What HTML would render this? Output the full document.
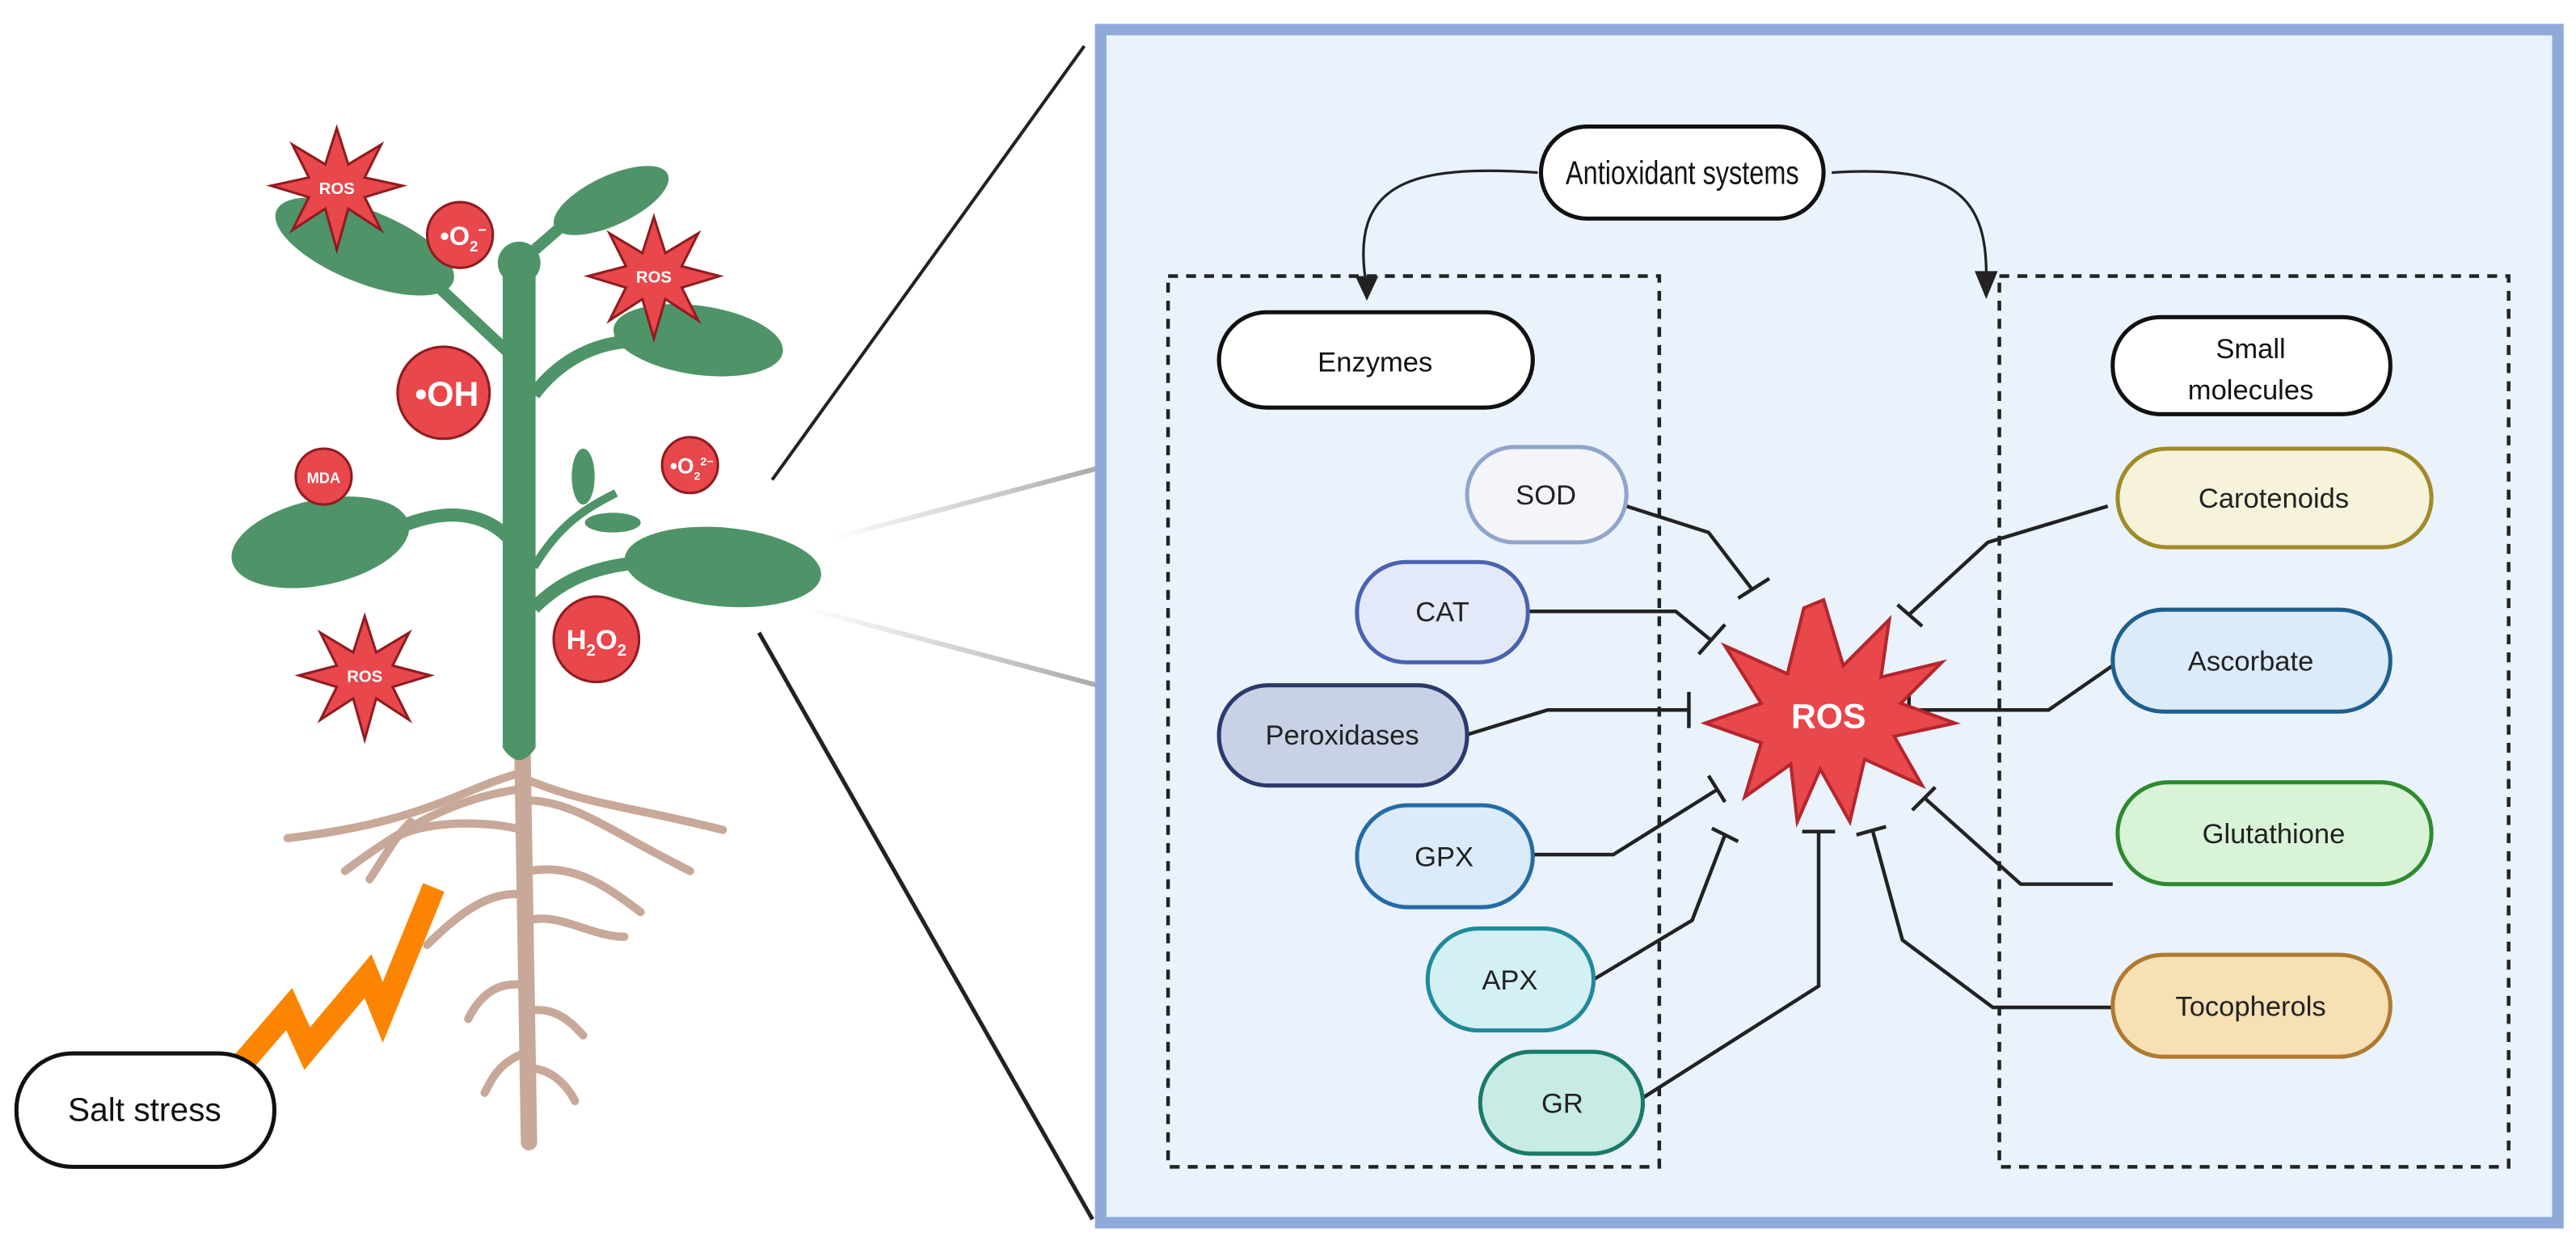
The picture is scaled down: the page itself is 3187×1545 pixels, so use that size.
<!DOCTYPE html>
<html><head><meta charset="utf-8"><style>
html,body{margin:0;padding:0;background:#fff;}
svg{display:block;}
text{font-family:"Liberation Sans",sans-serif;}
</style></head><body>
<svg width="3187" height="1545" viewBox="0 0 1568 760" preserveAspectRatio="none" xmlns="http://www.w3.org/2000/svg">
<defs>
<linearGradient id="g1" x1="0" y1="0" x2="1" y2="0"><stop offset="0" stop-color="#fff"/><stop offset="1" stop-color="#aaa"/></linearGradient>
</defs>
<line x1="470" y1="292" x2="660" y2="28" stroke="#222" stroke-width="2"/>
<line x1="505" y1="328" x2="668" y2="285" stroke="url(#g1)" stroke-width="3"/>
<line x1="490" y1="370" x2="668" y2="417" stroke="url(#g1)" stroke-width="3"/>
<line x1="462" y1="385" x2="665" y2="742" stroke="#222" stroke-width="2.5"/>
<rect x="670" y="18" width="887" height="726" fill="#eaf2fc" stroke="#8eaad8" stroke-width="7"/>
<rect x="711" y="168" width="299" height="542" fill="none" stroke="#222" stroke-width="2.2" stroke-dasharray="6,5"/>
<rect x="1217" y="168" width="310" height="542" fill="none" stroke="#222" stroke-width="2.2" stroke-dasharray="6,5"/>
<path d="M936 105 C860 100 820 110 832 175" fill="none" stroke="#222" stroke-width="1.6"/>
<polygon points="825,168 839,168 832,183" fill="#222"/>
<path d="M1115 105 C1190 100 1210 120 1209 170" fill="none" stroke="#222" stroke-width="1.6"/>
<polygon points="1202,165 1216,165 1209,182" fill="#222"/>
<rect x="938" y="77" width="172" height="56" rx="28" fill="#fff" stroke="#111" stroke-width="2.5"/>
<text x="1024" y="112" font-size="20" text-anchor="middle" fill="#111" textLength="142" lengthAdjust="spacingAndGlyphs">Antioxidant systems</text>
<rect x="742" y="190" width="191" height="58" rx="29" fill="#fff" stroke="#111" stroke-width="2.5"/>
<text x="837" y="226" font-size="17" text-anchor="middle" fill="#111">Enzymes</text>
<rect x="1286" y="193" width="169" height="59" rx="29" fill="#fff" stroke="#111" stroke-width="2.5"/>
<text x="1370" y="218" font-size="17" text-anchor="middle" fill="#111">Small</text>
<text x="1370" y="243" font-size="17" text-anchor="middle" fill="#111">molecules</text>
<g stroke="#222" stroke-width="2.2" fill="none">
<polyline points="990,308 1040,324 1066,358"/><line x1="1058" y1="364" x2="1077" y2="352"/>
<polyline points="930,372 1020,372 1042,390"/><line x1="1034" y1="398" x2="1050" y2="380"/>
<polyline points="893,447 942,432 1028,432"/><line x1="1028" y1="421" x2="1028" y2="443"/>
<polyline points="933,520 982,520 1046,480"/><line x1="1040" y1="472" x2="1050" y2="488"/>
<polyline points="970,596 1030,560 1050,508"/><line x1="1042" y1="504" x2="1058" y2="512"/>
<polyline points="1000,668 1107,600 1107,506"/><line x1="1097" y1="506" x2="1117" y2="506"/>
<polyline points="1286,613 1213,613 1158,572 1140,506"/><line x1="1130" y1="508" x2="1148" y2="503"/>
<polyline points="1286,538 1230,538 1172,486"/><line x1="1164" y1="493" x2="1178" y2="479"/>
<polyline points="1286,405 1247,432 1162,432"/><line x1="1162" y1="421" x2="1162" y2="443"/>
<polyline points="1283,308 1210,330 1162,374"/><line x1="1155" y1="368" x2="1170" y2="381"/>
</g>
<polygon points="1110,365 1122,405 1150,377 1145,412 1182,403 1157,428 1190,440 1153,448 1170,478 1135,462 1126,500 1108,468 1094,500 1090,465 1062,485 1072,452 1038,440 1072,428 1050,393 1088,410 1098,370" fill="#e8474b" stroke="#b3262c" stroke-width="2"/>
<text x="1113" y="443" font-size="21" font-weight="bold" text-anchor="middle" fill="#fff">ROS</text>
<g font-size="17" text-anchor="middle" fill="#222">
<rect x="893" y="272" width="97" height="58" rx="29" fill="#f3f5fa" stroke="#8fa5cc" stroke-width="2.5"/><text x="941" y="307">SOD</text>
<rect x="826" y="342" width="104" height="61" rx="30" fill="#e3e9f8" stroke="#4a62b0" stroke-width="2.5"/><text x="878" y="378">CAT</text>
<rect x="742" y="417" width="151" height="61" rx="30" fill="#c9d1e6" stroke="#2b3a6d" stroke-width="2.5"/><text x="817" y="453">Peroxidases</text>
<rect x="826" y="490" width="107" height="62" rx="31" fill="#dcebf9" stroke="#256ba6" stroke-width="2.5"/><text x="879" y="527">GPX</text>
<rect x="869" y="565" width="101" height="62" rx="31" fill="#d3f0f5" stroke="#1e8a9c" stroke-width="2.5"/><text x="919" y="602">APX</text>
<rect x="901" y="640" width="99" height="62" rx="31" fill="#c8ebe5" stroke="#1a7a6a" stroke-width="2.5"/><text x="951" y="677">GR</text>
<rect x="1289" y="273" width="191" height="60" rx="30" fill="#f6f3da" stroke="#a08a2a" stroke-width="2.5"/><text x="1384" y="309">Carotenoids</text>
<rect x="1286" y="371" width="169" height="62" rx="31" fill="#dcebfa" stroke="#1f5f8f" stroke-width="2.5"/><text x="1370" y="408">Ascorbate</text>
<rect x="1289" y="476" width="191" height="62" rx="31" fill="#d9f3d6" stroke="#2e8a2e" stroke-width="2.5"/><text x="1384" y="513">Glutathione</text>
<rect x="1286" y="581" width="169" height="62" rx="31" fill="#f6e0b4" stroke="#b07a30" stroke-width="2.5"/><text x="1370" y="618">Tocopherols</text>
</g>
<g stroke="#c8a898" stroke-width="5" fill="none" stroke-linecap="round">
<path d="M318 455 L322 695" stroke-width="10"/>
<path d="M318 470 C280 480 260 500 175 510"/>
<path d="M318 480 C280 485 250 500 210 530"/>
<path d="M250 500 C240 510 235 520 225 535"/>
<path d="M318 505 C300 500 260 498 240 510"/>
<path d="M322 475 C360 490 380 490 440 505"/>
<path d="M322 487 C350 488 370 505 420 530"/>
<path d="M322 530 C350 525 370 540 390 555"/>
<path d="M322 545 C300 540 280 555 260 575"/>
<path d="M322 560 C340 555 360 570 380 570"/>
<path d="M322 600 C300 595 290 610 285 620"/>
<path d="M322 615 C340 612 350 625 355 630"/>
<path d="M322 640 C305 645 300 655 295 665"/>
<path d="M322 650 C335 650 345 660 350 670"/>
</g>
<polyline points="138,658 176,614 187,638 224,594 233,616 264,540" fill="none" stroke="#fb8500" stroke-width="14" stroke-linejoin="miter" stroke-miterlimit="10"/>
<rect x="10" y="641" width="157" height="69" rx="34" fill="#fff" stroke="#111" stroke-width="2.5"/>
<text x="88" y="682" font-size="20" text-anchor="middle" fill="#111">Salt stress</text>
<g fill="#4e9468">
<path d="M306 160 L326 160 L326 455 Q316 470 306 455 Z"/>
<circle cx="316" cy="160" r="13"/>
<ellipse cx="222" cy="150" rx="58" ry="22" transform="rotate(22 222 150)"/>
<path d="M262 170 L310 215" stroke="#4e9468" stroke-width="7"/>
<ellipse cx="372" cy="122" rx="38" ry="15" transform="rotate(-25 372 122)"/>
<path d="M322 155 L345 135" stroke="#4e9468" stroke-width="7"/>
<ellipse cx="425" cy="207" rx="52" ry="21" transform="rotate(8 425 207)"/>
<path d="M325 240 C340 220 360 210 380 208" stroke="#4e9468" stroke-width="8" fill="none"/>
<ellipse cx="195" cy="330" rx="55" ry="26" transform="rotate(-12 195 330)"/>
<path d="M245 320 C270 310 295 310 312 330" stroke="#4e9468" stroke-width="8" fill="none"/>
<ellipse cx="440" cy="345" rx="60" ry="24" transform="rotate(5 440 345)"/>
<path d="M325 370 C345 350 365 345 390 342" stroke="#4e9468" stroke-width="8" fill="none"/>
<path d="M325 345 C340 320 355 310 375 300" stroke="#4e9468" stroke-width="5" fill="none"/>
<ellipse cx="355" cy="290" rx="7" ry="17"/>
<ellipse cx="373" cy="318" rx="17" ry="6"/>
</g>
<g fill="#e8474b" stroke="#8e1c20" stroke-width="1.5">
<polygon points="205,78 212,100 232,88 222,108 245,113 222,120 232,140 212,127 205,152 198,127 178,140 188,120 165,113 188,108 178,88 198,100"/>
<polygon points="398,132 405,154 425,142 415,162 438,168 415,175 425,195 405,182 398,206 391,182 371,195 381,175 358,168 381,162 371,142 391,154"/>
<polygon points="222,375 229,397 249,385 239,405 262,411 239,418 249,438 229,425 222,450 215,425 195,438 205,418 182,411 205,405 195,385 215,397"/>
<circle cx="280" cy="143" r="20"/>
<circle cx="270" cy="239" r="28"/>
<circle cx="197" cy="290" r="17"/>
<circle cx="420" cy="283" r="17"/>
<circle cx="363" cy="389" r="26"/>
</g>
<g fill="#fff" font-weight="bold" text-anchor="middle">
<text x="205" y="118" font-size="10">ROS</text>
<text x="398" y="172" font-size="10">ROS</text>
<text x="222" y="415" font-size="10">ROS</text>
<text x="282" y="149" font-size="16">•O<tspan font-size="9" dy="4">2</tspan><tspan font-size="9" dy="-10">−</tspan></text>
<text x="272" y="247" font-size="21">•OH</text>
<text x="197" y="294" font-size="9">MDA</text>
<text x="421" y="288" font-size="13">•O<tspan font-size="7" dy="4">2</tspan><tspan font-size="7" dy="-9">2−</tspan></text>
<text x="363" y="395" font-size="17">H<tspan font-size="10" dy="4">2</tspan><tspan dy="-4">O</tspan><tspan font-size="10" dy="4">2</tspan></text>
</g>
</svg>
</body></html>
